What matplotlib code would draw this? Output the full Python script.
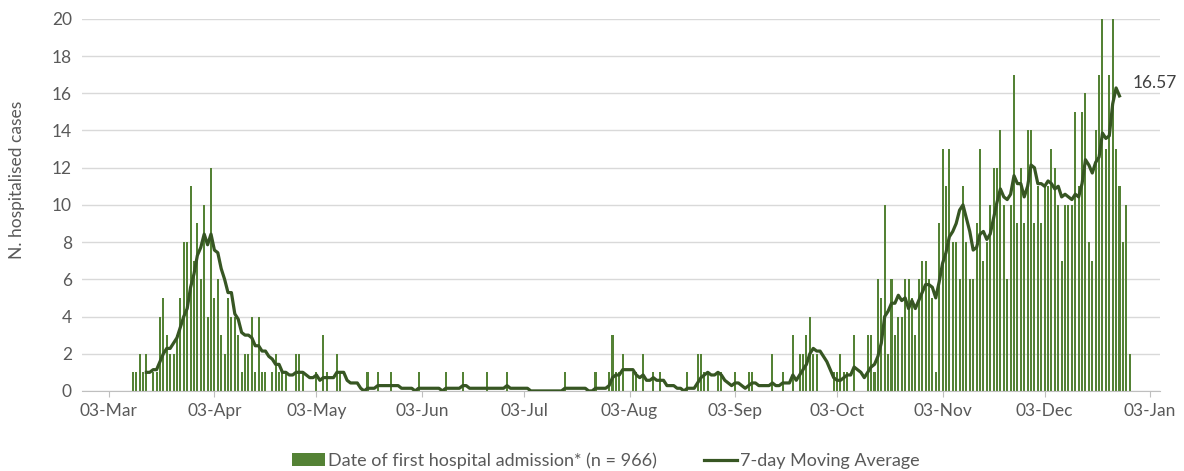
import matplotlib
matplotlib.use("Agg")
import matplotlib.pyplot as plt
import matplotlib.dates as mdates
import pandas as pd

# daily hospital admissions by date of first admission, first value is 08-Mar-2020
cases_mar = [0, 0, 1, 1, 2, 1, 2, 0, 1, 1, 4, 5, 3, 2, 2, 3, 5, 8, 8, 11, 7, 9, 6, 10]
cases_apr = [4, 12, 5, 6, 3, 2, 5, 4, 4, 3, 1, 2, 2, 4, 1, 4, 1, 1, 0, 1,
             2, 1, 1, 1, 0, 0, 2, 2, 1, 0]
cases_may = [0, 0, 1, 0, 3, 1, 0, 0, 2, 1, 0, 0, 0, 0, 0, 0, 0, 1, 0, 0,
             1, 0, 0, 0, 1, 0, 0, 0, 0, 0, 0]
cases_jun = [0, 1, 0, 0, 0, 0, 0, 0, 0, 1, 0, 0, 0, 0, 1, 0, 0, 0, 0, 0,
             0, 1, 0, 0, 0, 0, 0, 1, 0, 0]
cases_jul = [0, 0, 0, 0, 0, 0, 0, 0, 0, 0, 0, 0, 0, 0, 1, 0, 0, 0, 0, 0,
             0, 0, 0, 1, 0, 0, 0, 1, 3, 1, 1]
cases_aug = [2, 0, 0, 1, 1, 0, 2, 0, 0, 1, 0, 1, 0, 0, 0, 0, 0, 0, 0, 1,
             0, 0, 2, 2, 1, 1, 0, 0, 1, 1, 0]
cases_sep = [0, 0, 1, 0, 0, 0, 1, 1, 0, 0, 0, 0, 0, 2, 0, 0, 1, 0, 0, 3,
             0, 2, 2, 3, 4, 2, 2, 0, 0, 0]
cases_oct = [0, 1, 1, 2, 1, 1, 0, 3, 0, 0, 0, 3, 3, 1, 6, 5, 10, 2, 6, 3,
             4, 4, 6, 6, 5, 3, 6, 7, 7, 6, 5]
cases_nov = [1, 9, 13, 11, 13, 8, 8, 6, 11, 8, 6, 6, 9, 13, 7, 8, 10, 12, 12, 14,
             10, 6, 10, 17, 9, 12, 9, 14, 14, 9]
cases_dec = [11, 9, 11, 11, 13, 12, 10, 7, 10, 10, 10, 15, 11, 15, 16, 8, 7, 14, 17, 20,
             13, 17, 20, 13, 11, 8, 10, 2]

start_date = "2020-03-08"
ma_window = 7
ma_cut = 3            # last days not in the moving average (incomplete)
ma_last_label = 16.57
bar_label = "Date of first hospital admission* (n = 966)"
line_label = "7-day Moving Average"

plt.rcParams['font.family'] = ['Lato', 'DejaVu Sans']

cases = (cases_mar + cases_apr + cases_may + cases_jun + cases_jul +
         cases_aug + cases_sep + cases_oct + cases_nov + cases_dec)
dates = pd.date_range(start_date, periods=len(cases), freq="D")
s = pd.Series(cases, index=dates)
ma = s.rolling(ma_window).mean().iloc[:-ma_cut]

fig, ax = plt.subplots(figsize=(11.84, 4.71), dpi=100)
fig.subplots_adjust(left=0.069, right=0.98, top=0.96, bottom=0.17)

bars = ax.bar(s.index, s.values, width=0.6, color="#548235", label=bar_label, zorder=2)
line, = ax.plot(ma.index, ma.values, color="#375623", lw=2.3, label=line_label, zorder=3)
ax.text(ma.index[-1] + pd.Timedelta(days=4), ma_last_label, f"{ma_last_label:.2f}",
        va="center", ha="left", fontsize=12.5, color="#404040")

ax.set_ylim(0, 20)
ax.set_yticks(range(0, 21, 2))
ax.set_xlim(pd.Timestamp("2020-02-24"), pd.Timestamp("2021-01-06"))
ticks = pd.date_range("2020-03-03", "2021-01-03", freq=pd.DateOffset(months=1))
ax.set_xticks(ticks)
ax.xaxis.set_major_formatter(mdates.DateFormatter("%d-%b"))

ax.grid(axis="y", color="#d9d9d9", lw=1, zorder=0)
for side in ["top", "right", "left"]:
    ax.spines[side].set_visible(False)
ax.spines["bottom"].set_color("#bfbfbf")
ax.tick_params(axis="y", length=0, labelsize=12.5, labelcolor="#595959", pad=7)
ax.tick_params(axis="x", length=4, color="#bfbfbf", labelsize=12.5, labelcolor="#595959", pad=5)

ax.set_ylabel("N. hospitalised cases", fontsize=12.5, color="#595959")
ax.yaxis.set_label_coords(-0.053, 0.567)

fig.legend(handles=[bars, line], loc="lower center", bbox_to_anchor=(0.512, -0.03), ncol=2,
           frameon=False, fontsize=13, handlelength=1.8, handletextpad=0.2,
           columnspacing=2.6, labelcolor="#595959")

plt.savefig("out.png", dpi=100)
plt.close()
